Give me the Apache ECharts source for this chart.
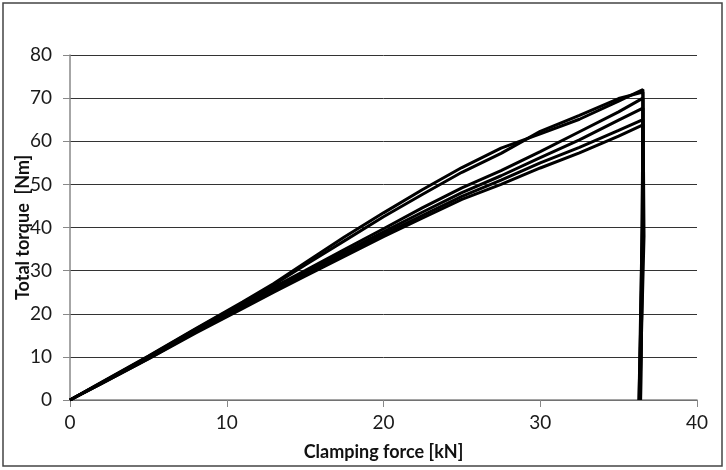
<!DOCTYPE html>
<html>
<head>
<meta charset="utf-8">
<script src="https://cdn.jsdelivr.net/npm/echarts@6/dist/echarts.min.js"></script>
<style>html,body{margin:0;padding:0;background:#fff}#c{width:726px;height:470px}</style>
</head>
<body>
<div id="c"></div>
<script>
// Clamping force [kN] sample points
const forceKN = [0, 2, 5, 8, 11, 13, 15, 17.5, 20, 22.5, 25, 27.5, 30, 32.5, 35, 36.55];
// Total torque [Nm] for each tightening cycle
const cycleA = [0, 4.1, 10.2, 16.5, 22.7, 27.0, 31.8, 37.8, 43.4, 48.8, 53.9, 58.4, 61.7, 65.1, 69.3, 72.0];
const cycleB = [0, 4.0, 10.1, 16.4, 22.5, 26.7, 31.3, 36.9, 42.5, 47.7, 52.8, 57.2, 62.3, 66.0, 69.9, 71.4];
const cycleC = [0, 4.0, 10.0, 16.2, 22.2, 26.2, 30.0, 34.9, 39.7, 44.6, 49.2, 53.2, 57.6, 62.2, 66.8, 70.0];
const cycleD = [0, 3.9, 9.8, 15.9, 21.8, 25.7, 29.5, 34.3, 39.0, 43.6, 48.1, 52.0, 56.2, 60.3, 64.9, 67.7];
const cycleE = [0, 3.8, 9.6, 15.7, 21.5, 25.3, 29.1, 33.8, 38.4, 42.8, 47.2, 51.0, 55.0, 58.6, 62.5, 65.0];
const cycleF = [0, 3.8, 9.5, 15.5, 21.2, 25.0, 28.7, 33.3, 37.9, 42.2, 46.5, 50.0, 53.8, 57.3, 61.2, 63.8];
// unloading: intermediate drop point and force at which torque returns to 0
const dropMidForce = [36.62, 36.55, 36.55, 36.5, 36.5, 36.55];
const dropMidTorque = [38, 40, 45, 42, 40, 44];
const dropForce = [36.35, 36.3, 36.4, 36.35, 36.3, 36.4];
const xTicks = [0, 10, 20, 30, 40];
const yTicks = [0, 10, 20, 30, 40, 50, 60, 70, 80];

const cycles = [cycleA, cycleB, cycleC, cycleD, cycleE, cycleF];
const series = cycles.map((c, i) => {
  const d = forceKN.map((f, j) => [f, c[j]]);
  d.push([dropMidForce[i], dropMidTorque[i]]);
  d.push([dropForce[i], 0]);
  return {
    type: 'line', showSymbol: false, silent: true,
    lineStyle: { color: '#000', width: 3 },
    data: d
  };
});

const FONT = 'Lato';
const chart = echarts.init(document.getElementById('c'), null, { renderer: 'canvas' });
chart.setOption({
  animation: false,
  backgroundColor: '#fff',
  graphic: [{ type: 'rect', shape: { x: 3, y: 3, width: 719, height: 463 }, style: { fill: 'none', stroke: '#444', lineWidth: 1.5 }, silent: true }],
  grid: { left: 70, right: 29, top: 55, bottom: 70, containLabel: false, outerBoundsMode: 'none' },
  xAxis: {
    type: 'value', min: xTicks[0], max: xTicks[xTicks.length - 1], interval: 10,
    name: 'Clamping force [kN]', nameLocation: 'middle', nameGap: 43, nameMoveOverlap: false,
    nameTextStyle: { fontFamily: FONT, fontSize: 18, fontWeight: 'bold', color: '#111' },
    axisLine: { show: true, lineStyle: { color: '#888', width: 1.5 } },
    axisTick: { show: true, length: 7, lineStyle: { color: '#888' } },
    axisLabel: { fontFamily: FONT, fontSize: 19, color: '#1a1a1a', margin: 13 },
    splitLine: { show: false }
  },
  yAxis: {
    type: 'value', min: yTicks[0], max: yTicks[yTicks.length - 1], interval: 10,
    name: 'Total torque  [Nm]', nameLocation: 'middle', nameGap: 38, nameRotate: 90, nameMoveOverlap: false,
    nameTextStyle: { fontFamily: FONT, fontSize: 18, fontWeight: 'bold', color: '#111' },
    axisLine: { show: true, lineStyle: { color: '#888', width: 1.5 } },
    axisTick: { show: true, length: 7, lineStyle: { color: '#888' } },
    axisLabel: { fontFamily: FONT, fontSize: 19, color: '#1a1a1a', margin: 18 },
    splitLine: { show: true, lineStyle: { color: '#333', width: 1 } }
  },
  series: series
});
</script>
</body>
</html>
